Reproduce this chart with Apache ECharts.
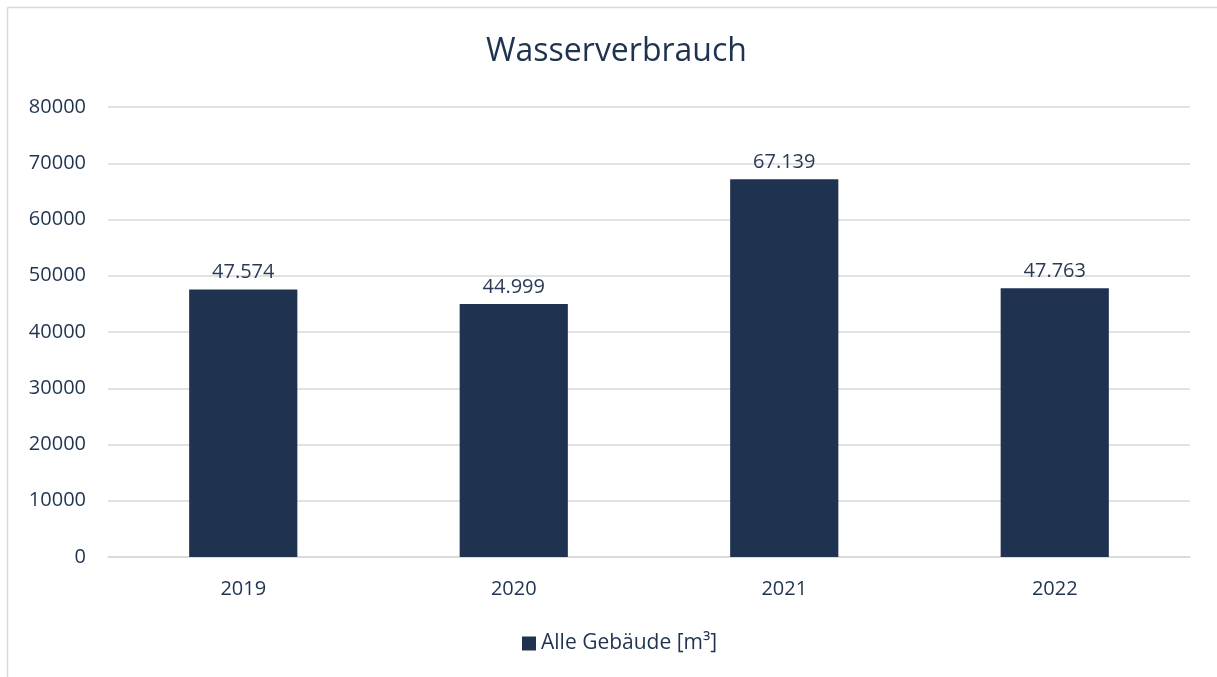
<!DOCTYPE html>
<html><head><meta charset="utf-8">
<script src="https://cdn.jsdelivr.net/npm/echarts@6/dist/echarts.min.js"></script>
<style>html,body{margin:0;padding:0;background:#fff}#c{width:1217px;height:677px}</style>
</head><body><div id="c"></div>
<script>
const categories = ['2019','2020','2021','2022'];
const values = [47574, 44999, 67139, 47763];
const seriesName = 'Alle Gebäude [m³]';
const title = 'Wasserverbrauch';

const navy = '#1F3350';
const font = 'Open Sans';
function de(v){return String(v).replace(/\B(?=(\d{3})+(?!\d))/g,'.');}
const chart = echarts.init(document.getElementById('c'), null, {renderer:'canvas'});
chart.setOption({
  animation:false,
  backgroundColor:'#fff',
  graphic:[
    {type:'line',shape:{x1:7.5,y1:7.5,x2:1217,y2:7.5},style:{stroke:'#d9d9d9',lineWidth:1.5},silent:true},
    {type:'line',shape:{x1:7.5,y1:7.5,x2:7.5,y2:677},style:{stroke:'#d9d9d9',lineWidth:1.5},silent:true}
  ],
  title:{text:title,left:481,top:31,textStyle:{fontFamily:font,fontSize:32,fontWeight:'normal',color:navy}},
  legend:{bottom:18,left:517,itemWidth:14,itemHeight:14,icon:'rect',itemGap:6,
    textStyle:{fontFamily:font,fontSize:21,color:navy},data:[seriesName]},
  grid:{left:108,right:27,top:107,bottom:120,containLabel:false},
  xAxis:{type:'category',data:categories,
    axisLine:{lineStyle:{color:'#d9d9d9',width:1.5}},axisTick:{show:false},
    axisLabel:{fontFamily:font,fontSize:20,color:navy,margin:22}},
  yAxis:{type:'value',min:0,max:80000,interval:10000,
    axisLine:{show:false},axisTick:{show:false},
    splitLine:{lineStyle:{color:'#d9d9d9',width:1.5}},
    axisLabel:{fontFamily:font,fontSize:20,color:navy,margin:22,formatter:v=>String(v)}},
  series:[{name:seriesName,type:'bar',data:values,barWidth:'40%',
    itemStyle:{color:navy},
    label:{show:true,position:'top',distance:7,fontFamily:font,fontSize:20,color:'#2a3a55',formatter:p=>de(p.value)}}]
});
</script></body></html>
